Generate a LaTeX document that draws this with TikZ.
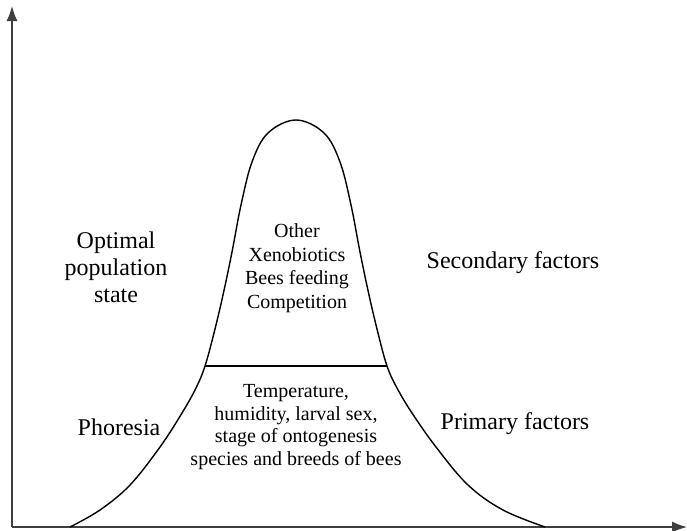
\documentclass[tikz,border=0pt]{standalone}
\usepackage{fontspec}
\setmainfont{Liberation Serif}
\usetikzlibrary{arrows.meta}
\tikzset{
          axis/.style={draw=black!75, line width=1.4pt, -{Latex[length=15pt,width=11pt]}},
          lbl/.style={draw=none, fill=none, inner sep=0pt, anchor=center, align=center}
        }
\begin{document}
\begin{tikzpicture}[x=1pt, y=-1pt,
        side/.style={lbl, font=\fontsize{24}{27}\selectfont},
        mid/.style={lbl, font=\fontsize{20}{23.5}\selectfont}
      ]
  \useasboundingbox (0,0) rectangle (687,530);

  % axes
  \coordinate (O) at (12,527);
  \coordinate (ytip) at (12,6);
  \coordinate (xtip) at (687,527);
  \draw[axis] (O) -- (ytip);
  \draw[axis] (O) -- (xtip);

  % bell curve
  \draw[black, line width=1.4pt] plot[smooth, tension=0.6] coordinates {
      (70,527) (100,510) (130,485) (160,447) (182,413) (196,388) (205,366)
      (214,333) (223,295) (232,252) (241,205) (252,162) (268,133) (296,120)
      (324,133) (340,162) (351,205) (360,252) (369,295) (378,333) (387,366)
      (397,388) (412,413) (436,447) (468,485) (503,510) (545,527)};
  \coordinate (bl) at (205,366);
  \coordinate (br) at (387,366);
  \draw[black, line width=1.4pt] (bl) -- (br);

  % labels
  \node[side] (optimal) at (116,267) {Optimal\\population\\state};
  \node[side] (phoresia) at (119,427) {Phoresia};
  \node[side] (secondary) at (513,263) {Secondary factors};
  \node[side] (primary) at (515,424) {Primary factors};
  \node[mid] (other) at (297,268) {Other\\Xenobiotics\\Bees feeding\\Competition};
  \node[mid, font=\fontsize{20}{22.5}\selectfont] (temp) at (296,427)
      {Temperature,\\humidity, larval sex,\\stage of ontogenesis\\species and breeds of bees};
\end{tikzpicture}
\end{document}
